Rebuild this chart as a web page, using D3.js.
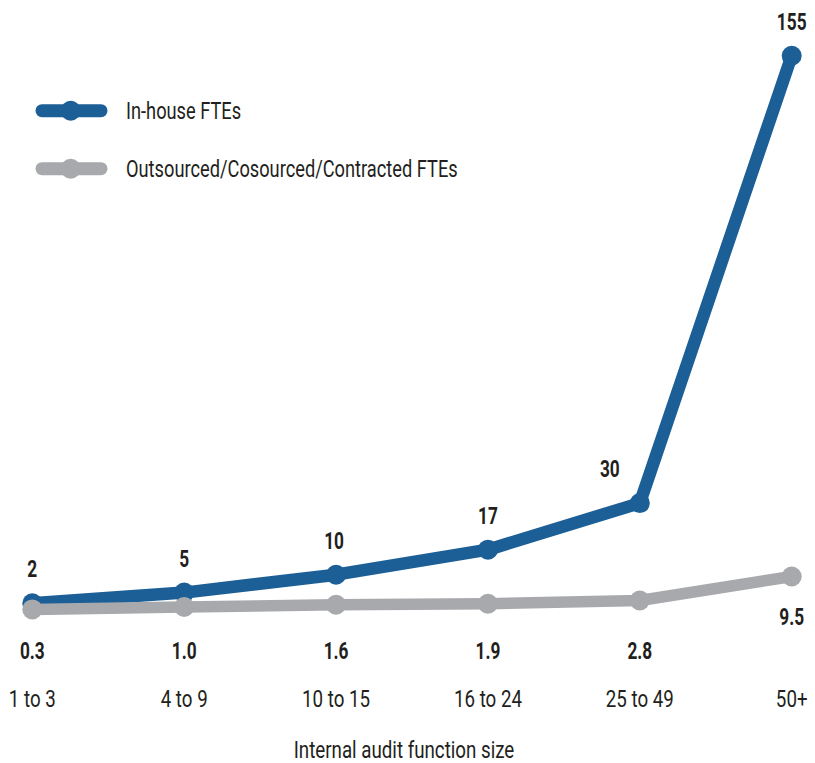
<!DOCTYPE html>
<html><head><meta charset="utf-8">
<script src="https://cdn.jsdelivr.net/npm/d3@7"></script>
<style>body{margin:0;background:#fff}svg{display:block}</style>
</head><body>
<script>
const categories = ["1 to 3","4 to 9","10 to 15","16 to 24","25 to 49","50+"];
const inHouse = [2,5,10,17,30,155];
const outsourced = [0.3,1.0,1.6,1.9,2.8,9.5];
const inHouseLabels = ["2","5","10","17","30","155"];
const outsourcedLabels = ["0.3","1.0","1.6","1.9","2.8","9.5"];
const seriesNames = ["In-house FTEs","Outsourced/Cosourced/Contracted FTEs"];
const xTitle = "Internal audit function size";

const W = 815, H = 763;
const BLUE = "#1c5f96", GRAY = "#a7a9ac", TXT = "#231f20";
const FONT = "Roboto, 'Open Sans', sans-serif";

const svg = d3.select("body").append("svg").attr("width", W).attr("height", H);

const x = d3.scalePoint().domain(categories).range([32.3, 791.7]);
const y = d3.scaleLinear().domain([0, 155]).range([610.5, 55.7]);

function txt(g, s, px, py, opts) {
  const sx = opts.sx || 0.765;
  return g.append("text")
    .attr("transform", `translate(${px},${py}) scale(${sx},1)`)
    .attr("text-anchor", opts.anchor || "middle")
    .attr("font-family", FONT)
    .attr("font-size", opts.size || 24.5)
    .attr("font-weight", opts.weight || 400)
    .attr("fill", TXT)
    .text(s);
}

const line = d3.line().x((d, i) => x(categories[i])).y(d => y(d));

function drawSeries(vals, color, sw) {
  svg.append("path").datum(vals).attr("d", line)
    .attr("fill", "none").attr("stroke", color).attr("stroke-width", sw)
    .attr("stroke-linejoin", "round");
  svg.append("g").selectAll("circle").data(vals).join("circle")
    .attr("cx", (d, i) => x(categories[i])).attr("cy", d => y(d))
    .attr("r", 10).attr("fill", color);
}
drawSeries(inHouse, BLUE, 12.5);
drawSeries(outsourced, GRAY, 11.5);

const lab = svg.append("g");
inHouse.forEach((v, i) => {
  let dx = (i === 4) ? -30 : (i === 2 ? -2 : 0);
  txt(lab, inHouseLabels[i], x(categories[i]) + dx, y(v) - 26, {weight: 700, size: 24, sx: 0.72});
});
outsourced.forEach((v, i) => {
  const last = i === outsourced.length - 1;
  const py = last ? y(v) + 48.5 : y(0) + 48;
  txt(lab, outsourcedLabels[i], x(categories[i]), py, {weight: 700, size: 24, sx: 0.72});
});

categories.forEach(c => {
  txt(lab, c, x(c), 706.5, {});
});
txt(lab, xTitle, 404, 758, {});

const leg = svg.append("g");
[[BLUE, 110.7], [GRAY, 168.7]].forEach(([col, ly], i) => {
  leg.append("line").attr("x1", 42).attr("x2", 101).attr("y1", ly).attr("y2", ly)
    .attr("stroke", col).attr("stroke-width", 13).attr("stroke-linecap", "round");
  leg.append("circle").attr("cx", 70.7).attr("cy", ly).attr("r", 10).attr("fill", col);
  txt(leg, seriesNames[i], 126, ly + 8.5, {anchor: "start", sx: 0.745});
});
</script>
</body></html>
